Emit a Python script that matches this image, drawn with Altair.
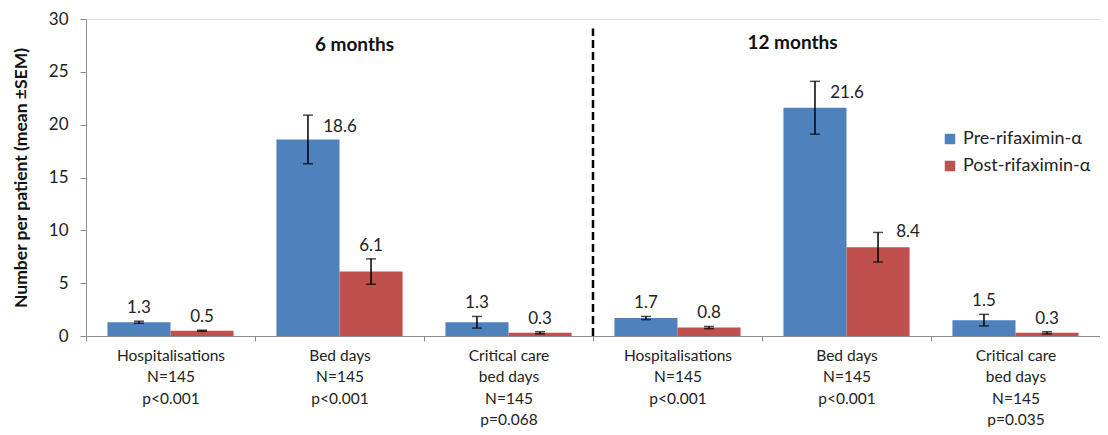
import altair as alt
import pandas as pd

# ---- data ----
keys = [
    "6m|Hospitalisations|N=145|p<0.001",
    "6m|Bed days|N=145|p<0.001",
    "6m|Critical care|bed days|N=145|p=0.068",
    "12m|Hospitalisations|N=145|p<0.001",
    "12m|Bed days|N=145|p<0.001",
    "12m|Critical care|bed days|N=145|p=0.035",
]
series_names = ["Pre-rifaximin-α", "Post-rifaximin-α"]
pre_vals = [1.3, 18.6, 1.3, 1.7, 21.6, 1.5]
post_vals = [0.5, 6.1, 0.3, 0.8, 8.4, 0.3]
pre_sem = [0.1, 2.3, 0.55, 0.15, 2.5, 0.55]
post_sem = [0.05, 1.2, 0.1, 0.1, 1.4, 0.1]
period_titles = ["6 months", "12 months"]

rows = []
for k, v, s in zip(keys, pre_vals, pre_sem):
    rows.append({"key": k, "series": series_names[0], "value": v, "sem": s})
for k, v, s in zip(keys, post_vals, post_sem):
    rows.append({"key": k, "series": series_names[1], "value": v, "sem": s})
df = pd.DataFrame(rows)

right_label_keys = [keys[1], keys[4]]

FONT = "Lato"
xscale = alt.Scale(domain=keys, paddingInner=0, paddingOuter=0)
yscale = alt.Scale(domain=[0, 30], nice=False)
offscale = alt.Scale(domain=series_names, paddingInner=0, paddingOuter=0.34)

X = alt.X(
    "key:N",
    sort=keys,
    scale=xscale,
    axis=alt.Axis(
        title=None,
        labelAngle=0,
        tickBand="extent",
        labelExpr="slice(split(datum.value, '|'), 1)",
        labelFont=FONT,
        labelFontSize=15.5,
        labelLineHeight=21.5,
        labelPadding=7,
        labelColor="#222222",
        domainColor="#8c8c8c",
        tickColor="#8c8c8c",
        tickSize=5,
        labelOverlap=False,
    ),
)
XO = alt.XOffset("series:N", sort=series_names, scale=offscale)

base = alt.Chart(df)

bars = base.mark_bar().encode(
    x=X,
    xOffset=XO,
    y=alt.Y(
        "value:Q",
        scale=yscale,
        axis=alt.Axis(
            title="Number per patient (mean ±SEM)",
            values=[0, 5, 10, 15, 20, 25, 30],
            grid=False,
            titleFont=FONT,
            titleFontSize=17.5,
            titleFontWeight="bold",
            titleColor="#111111",
            titlePadding=18,
            labelFont=FONT,
            labelFontSize=17,
            labelColor="#222222",
            labelPadding=12,
            domainColor="#8c8c8c",
            tickColor="#8c8c8c",
            tickSize=6,
        ),
    ),
    color=alt.Color(
        "series:N",
        sort=series_names,
        scale=alt.Scale(domain=series_names, range=["#4F81BD", "#C0504D"]),
        legend=alt.Legend(
            title=None,
            orient="none",
            legendX=855,
            legendY=111,
            symbolType="square",
            symbolSize=110,
            symbolStrokeWidth=0,
            labelFont=FONT,
            labelFontSize=18,
            labelColor="#222222",
            rowPadding=9,
        ),
    ),
)

err = base.transform_calculate(
    lo="datum.value - datum.sem", hi="datum.value + datum.sem"
)
rule = err.mark_rule(color="black", strokeWidth=1.5).encode(
    x=X, xOffset=XO, y=alt.Y("lo:Q", scale=yscale), y2="hi:Q"
)
cap_hi = err.mark_tick(color="black", size=10, thickness=1.5).encode(
    x=X, xOffset=XO, y=alt.Y("hi:Q", scale=yscale)
)
cap_lo = err.mark_tick(color="black", size=10, thickness=1.5).encode(
    x=X, xOffset=XO, y=alt.Y("lo:Q", scale=yscale)
)

is_right = "indexof(" + str(right_label_keys) + ", datum.key) >= 0 && datum.series == '" + series_names[0] + "'"
is_right_post = "datum.key == '" + keys[4] + "' && datum.series == '" + series_names[1] + "'"

LBL = 17
labels_above = err.transform_filter(
    "!(" + is_right + ") && !(" + is_right_post + ")"
).mark_text(font=FONT, fontSize=LBL, color="#222222", dy=-13).encode(
    x=X, xOffset=XO, y=alt.Y("hi:Q", scale=yscale), text=alt.Text("value:Q", format=".1f")
)
labels_right = err.transform_filter(is_right).mark_text(
    font=FONT, fontSize=LBL, color="#222222", dx=32, dy=12
).encode(
    x=X, xOffset=XO, y=alt.Y("hi:Q", scale=yscale), text=alt.Text("value:Q", format=".1f")
)
labels_right_post = err.transform_filter(is_right_post).mark_text(
    font=FONT, fontSize=LBL, color="#222222", dx=30, dy=0
).encode(
    x=X, xOffset=XO, y=alt.Y("hi:Q", scale=yscale), text=alt.Text("value:Q", format=".1f")
)

divider = alt.Chart(pd.DataFrame({"key": [keys[3]]})).mark_rule(
    color="black", strokeWidth=2.5, strokeDash=[8, 4]
).encode(
    x=alt.X("key:N", sort=keys, scale=xscale, bandPosition=0),
    y=alt.YDatum(0),
    y2=alt.Y2Datum(29.1),
)

t1 = alt.Chart(pd.DataFrame({"key": [keys[1]], "t": [period_titles[0]]})).mark_text(
    font=FONT, fontSize=19, fontWeight="bold", color="#111111", dx=15
).encode(x=alt.X("key:N", sort=keys, scale=xscale), y=alt.YDatum(27.5), text="t:N")
t2 = alt.Chart(pd.DataFrame({"key": [keys[4]], "t": [period_titles[1]]})).mark_text(
    font=FONT, fontSize=19, fontWeight="bold", color="#111111", dx=-54
).encode(x=alt.X("key:N", sort=keys, scale=xscale), y=alt.YDatum(27.7), text="t:N")

chart = alt.layer(
    bars, rule, cap_hi, cap_lo, labels_above, labels_right, labels_right_post, divider, t1, t2
).properties(
    width=1014,
    height=317,
    autosize=alt.AutoSizeParams(type="none"),
    padding={"left": 78, "top": 11, "right": 0, "bottom": 91},
).configure_view(stroke=None).configure(background="white")

chart.save("out.html", embed_options={"renderer": "svg", "actions": False})
